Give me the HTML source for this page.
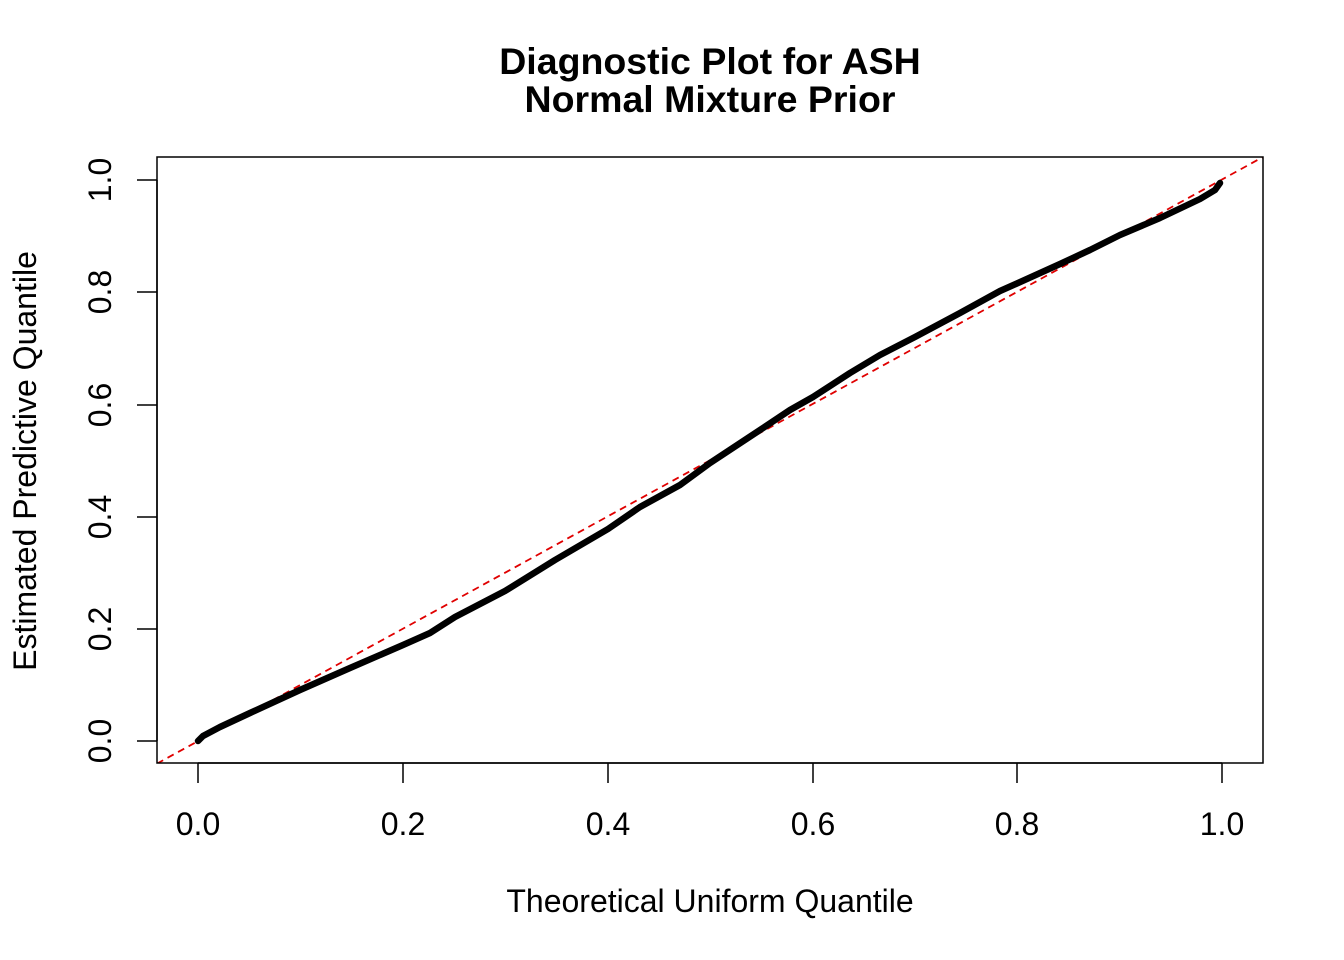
<!DOCTYPE html>
<html><head><meta charset="utf-8"><style>
html,body{margin:0;padding:0;background:#fff;}
svg{display:block;}
text{font-family:"Liberation Sans",Arial,sans-serif;fill:#000;}
</style></head><body>
<svg width="1344" height="960" viewBox="0 0 1344 960" xmlns="http://www.w3.org/2000/svg">
<text x="710" y="74" font-size="37.5" font-weight="bold" text-anchor="middle">Diagnostic Plot for ASH</text>
<text x="710" y="112" font-size="37.5" font-weight="bold" text-anchor="middle">Normal Mixture Prior</text>
<defs><clipPath id="c"><rect x="157" y="157" width="1106" height="606"/></clipPath></defs>
<g clip-path="url(#c)">
<line x1="157" y1="763.6" x2="1263" y2="157" stroke="#e00000" stroke-width="1.8" stroke-dasharray="7,5"/>
</g>
<polyline fill="none" stroke="#000" stroke-width="6.5" stroke-linejoin="round" stroke-linecap="round"
points="198,741 203,736 220,727 250,713 300,690 350,668 403,645 430,633 455,617 505,591 555,560 608,529 640,507 680,485 710,463 760,430 790,410 813,397 850,373 880,355 915,337 960,313 1000,291 1018,283 1060,264 1090,250 1120,235 1160,218 1200,199 1215,190 1220,183"/>
<rect x="157" y="157" width="1106" height="606" fill="none" stroke="#000" stroke-width="1.5"/>
<g stroke="#000" stroke-width="1.5">
<line x1="198" y1="763" x2="1222" y2="763"/>
<line x1="198" y1="763" x2="198" y2="783"/><line x1="403" y1="763" x2="403" y2="783"/>
<line x1="608" y1="763" x2="608" y2="783"/><line x1="813" y1="763" x2="813" y2="783"/>
<line x1="1017" y1="763" x2="1017" y2="783"/><line x1="1222" y1="763" x2="1222" y2="783"/>
<line x1="157" y1="741" x2="157" y2="180"/>
<line x1="137" y1="741" x2="157" y2="741"/><line x1="137" y1="629" x2="157" y2="629"/>
<line x1="137" y1="517" x2="157" y2="517"/><line x1="137" y1="405" x2="157" y2="405"/>
<line x1="137" y1="292" x2="157" y2="292"/><line x1="137" y1="180" x2="157" y2="180"/>
</g>
<g font-size="32" text-anchor="middle">
<text x="198" y="835">0.0</text><text x="403" y="835">0.2</text><text x="608" y="835">0.4</text>
<text x="813" y="835">0.6</text><text x="1017" y="835">0.8</text><text x="1222" y="835">1.0</text>
<text transform="translate(111,741) rotate(-90)">0.0</text>
<text transform="translate(111,629) rotate(-90)">0.2</text>
<text transform="translate(111,517) rotate(-90)">0.4</text>
<text transform="translate(111,405) rotate(-90)">0.6</text>
<text transform="translate(111,292) rotate(-90)">0.8</text>
<text transform="translate(111,180) rotate(-90)">1.0</text>
<text x="710" y="912">Theoretical Uniform Quantile</text>
<text transform="translate(36,461) rotate(-90)">Estimated Predictive Quantile</text>
</g>
</svg>
</body></html>
